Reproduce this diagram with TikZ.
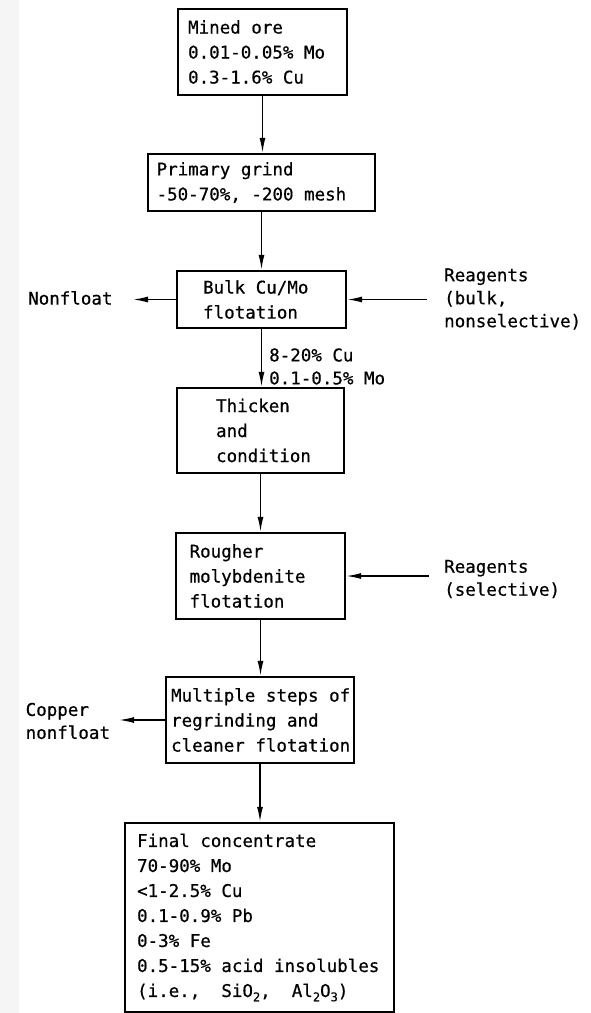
\documentclass[tikz,border=0pt]{standalone}
\usepackage{fontspec}
\setmainfont[FakeBold=0.6]{DejaVu Sans Mono}
\usetikzlibrary{arrows.meta}
% lowered small index for chemical formulas
\newcommand{\lowidx}[1]{\raisebox{-0.45ex}{\fontsize{12}{12}\selectfont #1}}
\begin{document}
\begin{tikzpicture}[x=1pt,y=-1pt,
  stepbox/.style={draw, line width=2.2pt, rectangle, inner sep=0pt},
  boxtext/.style={anchor=west, align=left, inner sep=0pt, font=\fontsize{17.5}{25}\selectfont},
  sidetext/.style={anchor=west, align=left, inner sep=0pt, font=\fontsize{17.5}{23}\selectfont},
  flow/.style={line width=1.5pt, -{Latex[length=15pt,width=6pt]}}]
\useasboundingbox (0,0) rectangle (590,1013);
\fill[white] (0,0) rectangle (590,1013);
\fill[black!4] (0,0) rectangle (19,1013);

% process boxes
\node[stepbox, minimum width=169pt, minimum height=86pt] (ore) at (262.5,52) {};
\node[boxtext] (oret) at ([xshift=11pt]ore.west) {Mined ore\\0.01-0.05\% Mo\\0.3-1.6\% Cu};

\node[stepbox, minimum width=227pt, minimum height=57pt] (grind) at (261.5,182.5) {};
\node[boxtext] (grindt) at ([xshift=9.5pt]grind.west) {Primary grind\\-50-70\%, -200 mesh};

\node[stepbox, minimum width=169pt, minimum height=57pt] (bulk) at (261.5,299.5) {};
\node[boxtext] (bulkt) at ([xshift=27pt]bulk.west) {Bulk Cu/Mo\\flotation};

\node[stepbox, minimum width=167pt, minimum height=85pt] (thick) at (260.5,430.5) {};
\node[boxtext] (thickt) at ([xshift=40pt]thick.west) {Thicken\\and\\condition};

\node[stepbox, minimum width=169pt, minimum height=86pt] (rough) at (260.5,576) {};
\node[boxtext] (rought) at ([xshift=14.5pt]rough.west) {Rougher\\molybdenite\\flotation};

\node[stepbox, minimum width=188pt, minimum height=86pt] (clean) at (260,720) {};
\node[boxtext] (cleant) at ([xshift=6pt]clean.west) {Multiple steps of\\regrinding and\\cleaner flotation};

\node[stepbox, minimum width=269pt, minimum height=189pt] (final) at (259.5,917.5) {};
\node[boxtext] (finalt) at ([xshift=13pt]final.west) {Final concentrate\\70-90\% Mo\\<1-2.5\% Cu\\0.1-0.9\% Pb\\0-3\% Fe\\0.5-15\% acid insolubles\\(i.e.,~~SiO\lowidx{2},~~Al\lowidx{2}O\lowidx{3})};

% side streams
\node[sidetext] (nf) at (28,298) {Nonfloat};
\coordinate (nfend) at (133,299.5);
\node[sidetext] (rb) at (444,299) {Reagents\\(bulk,\\nonselective)};
\coordinate (rbin) at (427,299.5);
\node[sidetext] (rs) at (444,579) {Reagents\\(selective)};
\coordinate (rsin) at (428.6,576);
\node[sidetext] (cn) at (25.5,721) {Copper\\nonfloat};
\coordinate (cnend) at (119,720);
\node[sidetext] (grade) at (269,366.5) {8-20\% Cu\\0.1-0.5\% Mo};

% main flow
\draw[flow] (ore.south) -- (ore.south |- grind.north);
\draw[flow] (grind.south) -- (grind.south |- bulk.north);
\draw[flow] (bulk.south) -- (bulk.south |- thick.north);
\draw[flow] (thick.south) -- (thick.south |- rough.north);
\draw[flow] (rough.south) -- (rough.south |- clean.north);
\draw[flow] (clean.south) -- (clean.south |- final.north);

% side flows
\draw[flow] (bulk.west) -- (nfend);
\draw[flow] (rbin) -- (bulk.east);
\draw[flow] (rsin) -- (rough.east);
\draw[flow] (clean.west) -- (cnend);
\end{tikzpicture}
\end{document}
